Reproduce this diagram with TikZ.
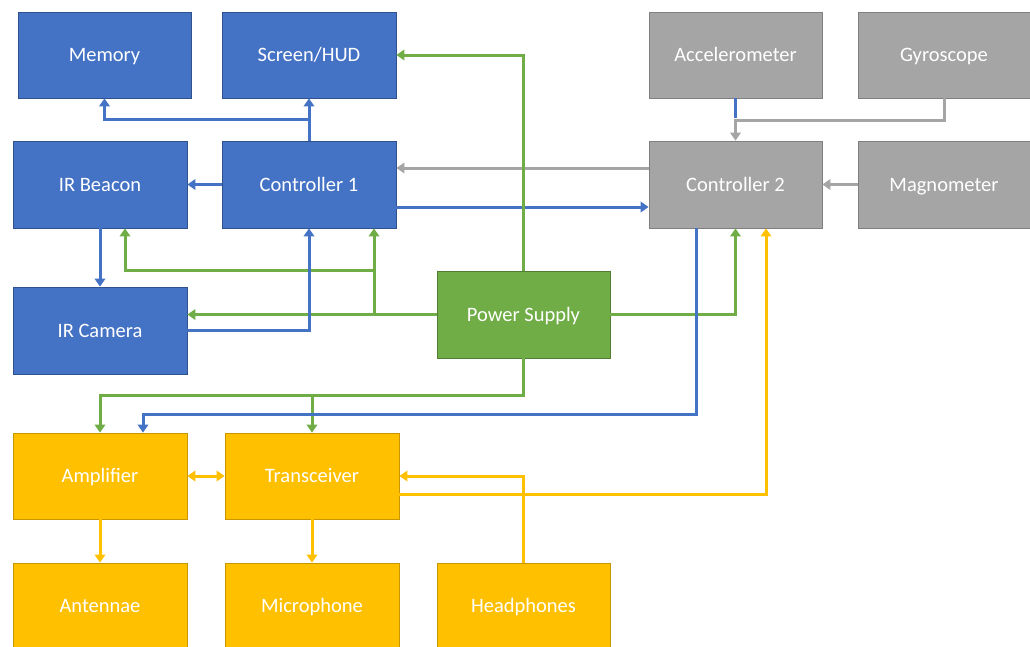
\documentclass[tikz,border=0pt]{standalone}
\usepackage{fontspec}
\setmainfont{Carlito}
\usetikzlibrary{arrows.meta}
\definecolor{cblue}{HTML}{4472C4}
\definecolor{cblueb}{HTML}{2F528F}
\definecolor{cgray}{HTML}{A5A5A5}
\definecolor{cgrayb}{HTML}{7F7F7F}
\definecolor{cgreen}{HTML}{70AD47}
\definecolor{cgreenb}{HTML}{507E32}
\definecolor{cyel}{HTML}{FFC000}
\definecolor{cyelb}{HTML}{C89600}
\tikzset{
  box/.style={rectangle, inner sep=0pt, minimum width=174pt, minimum height=87pt, line width=0.8pt, text=white, font=\fontsize{20.5}{24}\selectfont, text height=13.1pt, text depth=0pt},
  bbox/.style={box, fill=cblue, draw=cblueb},
  gbox/.style={box, fill=cgray, draw=cgrayb},
  pbox/.style={box, fill=cgreen, draw=cgreenb},
  ybox/.style={box, fill=cyel, draw=cyelb},
  conn/.style={line width=3pt, -{Triangle[length=8pt,width=10.5pt]}},
  bl/.style={conn, draw=cblue},
  gy/.style={conn, draw=cgray},
  gn/.style={conn, draw=cgreen},
  yl/.style={conn, draw=cyel},
}
\begin{document}
\begin{tikzpicture}[x=1pt,y=-1pt]
\useasboundingbox (0,0) rectangle (1030,646);
% boxes
\node[bbox, minimum width=173pt, minimum height=86pt] (mem) at (104.5,55) {Memory};
\node[bbox, minimum height=86pt] (hud) at (309,55) {Screen/HUD};
\node[gbox, minimum width=173pt, minimum height=86pt] (acc) at (735.5,55) {Accelerometer};
\node[gbox, minimum width=172pt, minimum height=86pt] (gyro) at (944,55) {Gyroscope};
\node[bbox] (beacon) at (100,184.5) {IR Beacon};
\node[bbox] (ctrl1) at (309,184.5) {Controller 1};
\node[gbox, minimum width=173pt] (ctrl2) at (735.5,184.5) {Controller 2};
\node[gbox, minimum width=172pt] (mag) at (944,184.5) {Magnometer};
\node[bbox] (cam) at (100,330.5) {IR Camera};
\node[pbox, minimum width=173pt] (power) at (523.5,314.5) {Power Supply};
\node[ybox, minimum height=86pt] (amp) at (100,476) {Amplifier};
\node[ybox, minimum height=86pt] (trx) at (312,476) {Transceiver};
\node[ybox, minimum height=86pt] (ant) at (100,606) {Antennae};
\node[ybox, minimum height=86pt] (mic) at (312,606) {Microphone};
\node[ybox, minimum width=173pt, minimum height=86pt] (head) at (523.5,606) {Headphones};
% helper coordinates
\path ([xshift=65pt]ctrl1.south) coordinate (c1s);
\path ([xshift=25pt]beacon.south) coordinate (bs);
\path ([xshift=-39.5pt]ctrl2.south) coordinate (c2b);
\path ([xshift=30.5pt]ctrl2.south) coordinate (c2y);
\path ([xshift=43pt]amp.north) coordinate (ampb);
% gray connectors
\draw[cblue, line width=3pt] (acc.south) -- ++(0,20);
\draw[gy] (gyro.south) -- ++(0,22) -| (ctrl2.north);
\draw[gy] (mag.west) -- (ctrl2.east);
\draw[gy] ([yshift=16.5pt]ctrl2.west) -- ([yshift=16.5pt]ctrl1.east);
% blue connectors
\draw[bl] (ctrl1.north) -- (hud.south);
\draw[bl] (ctrl1.north) -- ++(0,-21) -| (mem.south);
\draw[bl] (ctrl1.west) -- (beacon.east);
\draw[bl] (beacon.south) -- (cam.north);
\draw[bl] ([yshift=-22.5pt]ctrl1.east) -- ([yshift=-22.5pt]ctrl2.west);
% green connectors
\draw[gn] (power.north) |- (hud.east);
\draw[gn] (power.west) -- (power.west -| cam.east);
\draw[gn] (power.west -| c1s) -- (c1s);
\draw[gn] (power.west -| c1s) -- ++(0,-44) -| (bs);
\draw[gn] (power.east) -| (ctrl2.south);
\draw[gn] (power.south) -- ++(0,37) -| (amp.north);
\draw[gn] (power.south) -- ++(0,37) -| (trx.north);
% blue over green
\draw[bl] (cam.east) -| (ctrl1.south);
\draw[bl] (c2b) -- ++(0,186) -| (ampb);
% yellow connectors
\draw[yl, {Triangle[length=8pt,width=10.5pt]}-{Triangle[length=8pt,width=10.5pt]}] (amp.east) -- (trx.west);
\draw[yl] ([yshift=-18pt]trx.east) -| (c2y);
\draw[yl] (head.north) |- (trx.east);
\draw[yl] (amp.south) -- (ant.north);
\draw[yl] (trx.south) -- (mic.north);
\end{tikzpicture}
\end{document}
